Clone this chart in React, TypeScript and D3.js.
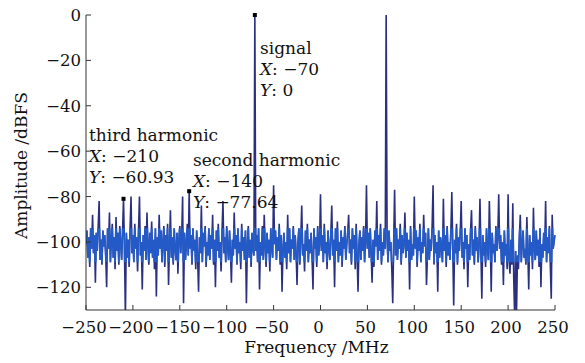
import React from 'react';
import * as d3 from 'd3';

// spectrum: 1 MHz bins from -250 to 250 MHz, amplitude in dBFS
const freqStart = -250;
const spectrum: number[] = [
  -101, -95, -107, -98, -111, -94, -103, -88, -105, -97, -118, -96, -104, -93, -82, -108, -99, -110, -95, -102,
  -97, -106, -120, -94, -103, -87, -109, -100, -92, -107, -98, -112, -89, -104, -96, -110, -93, -101, -108, -95,
  -81, -103, -133, -96, -107, -99, -111, -94, -80, -105, -97, -109, -92, -103, -98, -113, -95, -80, -106, -100,
  -121, -97, -104, -93, -108, -87, -102, -110, -96, -105, -91, -107, -99, -112, -94, -124, -98, -106, -88, -103,
  -95, -109, -100, -93, -111, -97, -104, -92, -119, -101, -86, -107, -98, -110, -94, -103, -108, -96, -114, -99,
  -93, -105, -98, -80, -127, -96, -108, -101, -92, -106, -77.64, -103, -97, -110, -94, -104, -99, -112, -95, -107,
  -122, -98, -105, -84, -109, -96, -102, -93, -111, -100, -106, -94, -108, -97, -103, -88, -110, -99, -120, -95,
  -104, -92, -107, -100, -113, -96, -82, -105, -98, -109, -93, -102, -108, -95, -104, -118, -99, -106, -87, -103,
  -97, -110, -94, -105, -100, -112, -92, -104, -98, -108, -95, -127, -101, -93, -107, -99, -111, -96, -103, -106,
  0, -104, -97, -109, -94, -121, -100, -106, -93, -108, -88, -102, -111, -96, -105, -99, -113, -94, -103, -107,
  -75, -101, -95, -108, -98, -104, -92, -110, -97, -122, -103, -96, -107, -100, -112, -88, -105, -94, -109, -99,
  -103, -93, -108, -97, -105, -119, -100, -94, -110, -98, -84, -106, -101, -113, -95, -104, -92, -109, -99, -105,
  -96, -107, -121, -94, -103, -98, -111, -93, -106, -101, -79, -104, -97, -109, -92, -105, -100, -112, -95, -103,
  -108, -97, -84, -106, -99, -120, -94, -104, -91, -109, -100, -106, -95, -111, -98, -103, -93, -108, -101, -96,
  -88, -105, -99, -110, -94, -103, -97, -112, -92, -106, -122, -101, -95, -108, -98, -104, -93, -109, -100, -75,
  -103, -96, -107, -94, -105, -118, -99, -111, -95, -102, -82, -108, -97, -104, -92, -110, -100, -106, -94, -103,
  0, -98, -109, -95, -104, -100, -112, -127, -101, -77, -106, -94, -108, -99, -103, -92, -110, -97, -105, -101,
  -87, -107, -96, -104, -99, -121, -93, -108, -101, -106, -80, -103, -95, -111, -98, -104, -92, -109, -100, -105,
  -88, -102, -96, -119, -106, -94, -108, -99, -104, -93, -75, -110, -97, -105, -100, -122, -95, -107, -98, -103,
  -109, -81, -104, -97, -111, -93, -106, -100, -108, -95, -78, -103, -128, -99, -105, -92, -110, -98, -104, -96,
  -82, -107, -100, -112, -94, -103, -97, -120, -101, -108, -95, -86, -106, -99, -110, -93, -104, -98, -109, -102,
  -81, -104, -125, -97, -106, -100, -111, -94, -103, -108, -82, -99, -122, -96, -105, -101, -109, -93, -104, -98,
  -79, -103, -97, -110, -100, -119, -95, -106, -101, -112, -79, -108, -114, -99, -110, -83, -116, -133, -104, -131,
  -106, -112, -98, -88, -109, -101, -95, -107, -103, -110, -89, -104, -121, -97, -106, -100, -112, -85, -103, -108,
  -95, -106, -99, -111, -94, -120, -101, -107, -96, -104, -82, -109, -98, -105, -93, -110, -125, -88, -103, -100,
  -97,
];

const markers = [
  { f: -70, v: 0 },
  { f: -140, v: -77.64 },
  { f: -210, v: -81 },
];
const annotations = [
  { name: 'signal', x: '−70', y: '0', left: 260, top: 54 },
  { name: 'third harmonic', x: '−210', y: '−60.93', left: 89, top: 141 },
  { name: 'second harmonic', x: '−140', y: '−77.64', left: 193, top: 166 },
];
const xTicks = [-250, -200, -150, -100, -50, 0, 50, 100, 150, 200, 250];
const yTicks = [0, -20, -40, -60, -80, -100, -120];

const W = 585;
const H = 363;
const margin = { left: 86, right: 30, top: 15, bottom: 53 };
const font = 'DejaVu Serif, serif';

const fmt = (n: number) => (n < 0 ? '−' + Math.abs(n) : String(n));

export default function App() {
  const x = d3.scaleLinear().domain([-250, 250]).range([margin.left, W - margin.right]);
  const y = d3.scaleLinear().domain([-130, 0]).range([H - margin.bottom, margin.top]);

  const pts = spectrum.map((v, i) => [freqStart + i, v] as [number, number]);
  const line = d3
    .line<[number, number]>()
    .x((d) => x(d[0]))
    .y((d) => y(d[1]));
  const path = line(pts) || '';

  const x0 = margin.left;
  const x1 = W - margin.right;
  const yb = H - margin.bottom;

  return (
    <svg width={W} height={H} style={{ position: 'absolute', left: 0, top: 0, background: '#fff' }}>
      <defs>
        <clipPath id="plot">
          <rect x={x0} y={margin.top - 2} width={x1 - x0 + 1} height={yb - margin.top + 2} />
        </clipPath>
        <clipPath id="band">
          <rect x={x0} y={y(-94)} width={x1 - x0} height={y(-109) - y(-94)} />
        </clipPath>
      </defs>

      <g clipPath="url(#plot)">
        <path d={path} fill="none" stroke="#2a2f80" strokeWidth={1.6} />
        <path d={path} fill="none" stroke="#2262d4" strokeWidth={1.6} strokeOpacity={0.85} clipPath="url(#band)" />
      </g>

      {markers.map((m) => (
        <rect key={m.f} x={x(m.f) - 2} y={y(m.v) - 2} width={4} height={4} fill="#000" />
      ))}

      {/* axes */}
      <line x1={x0} x2={x0} y1={margin.top} y2={yb} stroke="#333" />
      <line x1={x0} x2={x1} y1={yb} y2={yb} stroke="#333" />
      {yTicks.map((t) => (
        <g key={t}>
          <line x1={x0} x2={x0 + 5} y1={y(t)} y2={y(t)} stroke="#333" />
          <text x={x0 - 5} y={y(t) + 6} textAnchor="end" fontFamily={font} fontSize={16.5} fill="#111">
            {fmt(t)}
          </text>
        </g>
      ))}
      {xTicks.map((t) => (
        <g key={t}>
          <line x1={x(t)} x2={x(t)} y1={yb} y2={yb - 5} stroke="#333" />
          <text x={x(t) - 2} y={yb + 23} textAnchor="middle" fontFamily={font} fontSize={16.5} fill="#111">
            {fmt(t)}
          </text>
        </g>
      ))}
      <text x={x(0) - 4} y={353} textAnchor="middle" fontFamily={font} fontSize={17} fill="#111">
        Frequency /MHz
      </text>
      <text
        transform={`translate(27,${(margin.top + yb) / 2 + 3}) rotate(-90)`}
        textAnchor="middle"
        fontFamily={font}
        fontSize={17}
        fill="#111"
      >
        Amplitude /dBFS
      </text>

      {annotations.map((a) => (
        <g key={a.name} fontFamily={font} fontSize={17} fill="#111">
          <text x={a.left} y={a.top}>{a.name}</text>
          <text x={a.left} y={a.top + 21}>
            <tspan fontStyle="italic">X</tspan>: {a.x}
          </text>
          <text x={a.left} y={a.top + 42}>
            <tspan fontStyle="italic">Y</tspan>: {a.y}
          </text>
        </g>
      ))}
    </svg>
  );
}
